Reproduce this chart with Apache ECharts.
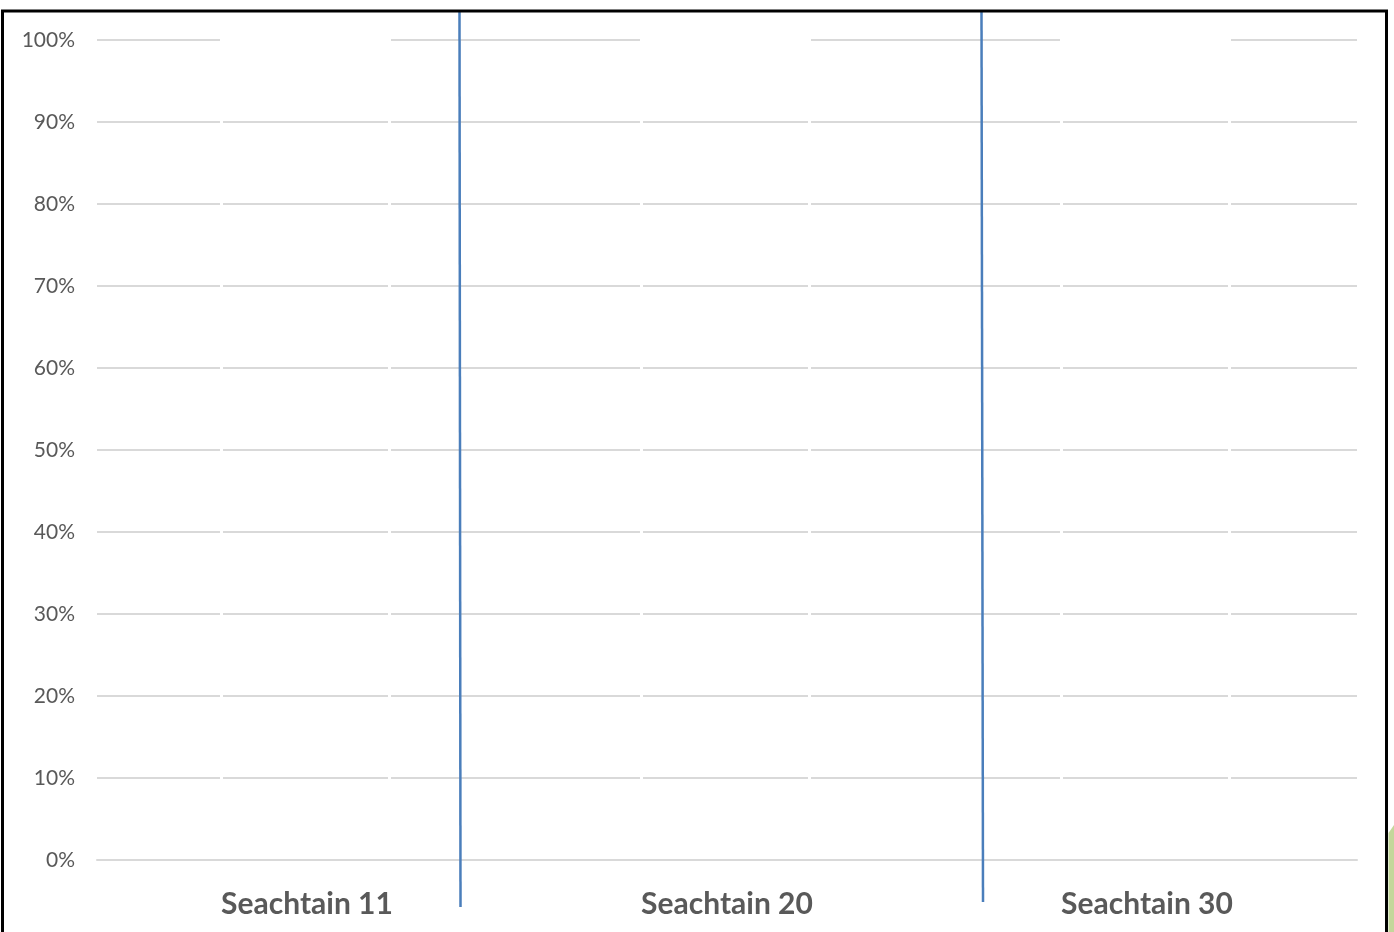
<!DOCTYPE html>
<html>
<head>
    <meta charset="utf-8">
    <title>Seachtain</title>
    <script src="https://cdn.jsdelivr.net/npm/echarts@6/dist/echarts.min.js"></script>
    <style>
        html, body { margin: 0; padding: 0; background: #fff; }
        #main { width: 1394px; height: 932px; }
    </style>
</head>
<body>
    <div id="main"></div>
    <script>
        // data
        const weeks = ['Seachtain 11', 'Seachtain 20', 'Seachtain 30'];
        const shares = [100, 100, 100];   // empty 100% columns, only white outlines visible
        const yMin = 0, yMax = 100, yStep = 10;

        const chart = echarts.init(document.getElementById('main'));

        // outline-only column, stroke centred on the column edge (like the original)
        function renderColumn(params, api) {
            const top = api.coord([api.value(0), api.value(1)]);
            const base = api.coord([api.value(0), 0]);
            const w = api.size([1, 0])[0] * 0.4;
            return {
                type: 'rect',
                shape: { x: top[0] - w / 2 - 1.5, y: top[1], width: w, height: base[1] - top[1] },
                style: { fill: 'none', stroke: '#ffffff', lineWidth: 3 }
            };
        }

        const option = {
            backgroundColor: '#ffffff',
            animation: false,
            grid: { left: 97, right: 37, top: 40, bottom: 72 },
            xAxis: {
                type: 'category',
                data: weeks,
                z: 5,
                axisLine: { lineStyle: { color: '#d9d9d9', width: 2 } },
                axisTick: { show: false },
                axisLabel: {
                    margin: 29,
                    color: '#595959',
                    fontFamily: 'Lato',
                    fontWeight: 'bold',
                    fontSize: 30
                }
            },
            yAxis: {
                type: 'value',
                min: yMin,
                max: yMax,
                interval: yStep,
                axisLine: { show: false },
                axisTick: { show: false },
                splitLine: { lineStyle: { color: '#d9d9d9', width: 2 } },
                axisLabel: {
                    margin: 22,
                    formatter: '{value}%',
                    color: '#595959',
                    fontFamily: 'Lato',
                    fontSize: 21
                }
            },
            series: [{
                name: 'share',
                type: 'custom',
                renderItem: renderColumn,
                data: weeks.map((w, i) => [i, shares[i]])
            }],
            graphic: [
                // outer frame of the screenshot
                { type: 'rect', z: 100, shape: { x: 2.5, y: 11, width: 1384, height: 940 },
                  style: { fill: 'none', stroke: '#000000', lineWidth: 3 } },
                // hand-drawn separators
                { type: 'line', z: 90, shape: { x1: 459.5, y1: 12, x2: 460.5, y2: 907 },
                  style: { stroke: '#4a7ebb', lineWidth: 2.5 } },
                { type: 'line', z: 90, shape: { x1: 981.5, y1: 12, x2: 983, y2: 902 },
                  style: { stroke: '#4a7ebb', lineWidth: 2.5 } },
                // green fragment at the right edge
                { type: 'polygon', z: 90, shape: { points: [[1388.5, 833], [1394, 825], [1394, 932], [1388.5, 932]] },
                  style: { fill: '#c4d79b' } }
            ]
        };

        chart.setOption(option);
        window.addEventListener('resize', function () { chart.resize(); });
    </script>
</body>
</html>
